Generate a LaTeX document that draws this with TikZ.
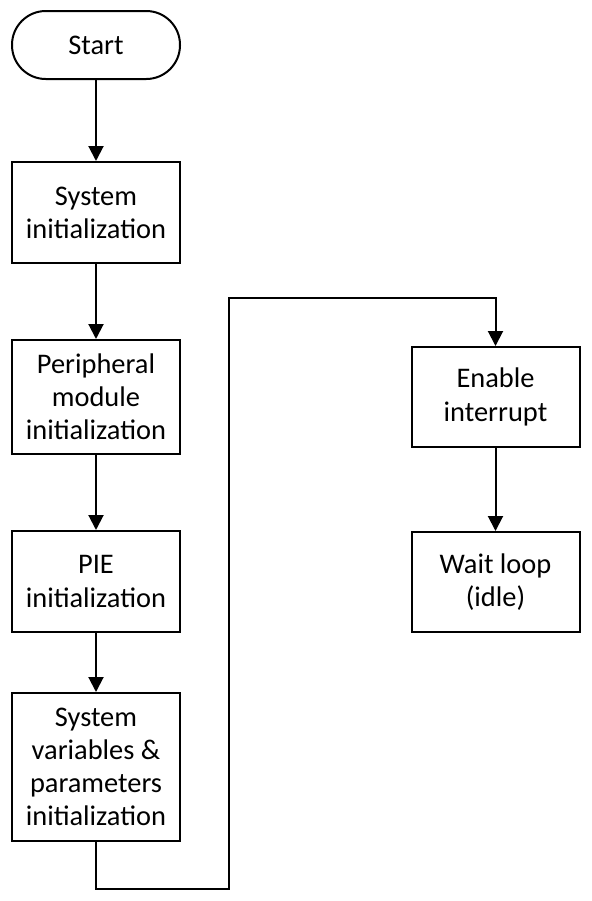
\documentclass[tikz,border=0pt]{standalone}
\usepackage{fontspec}
\setmainfont{Carlito}
\usetikzlibrary{arrows.meta,positioning,calc}
\tikzset{
  term/.style={rectangle, draw, line width=1pt, rounded corners=16.9pt, align=center,
               font=\fontsize{14.2}{16.6}\selectfont, minimum width=84pt, minimum height=34pt},
  proc/.style={rectangle, draw, line width=1pt, align=center, inner sep=2pt,
               font=\fontsize{14.2}{16.6}\selectfont, minimum width=84pt},
  fl/.style={-{Triangle[length=7.5pt,width=7.5pt]}, line width=1pt},
}
\begin{document}
\begin{tikzpicture}[x=0.5pt,y=-0.5pt]
\useasboundingbox (0,0) rectangle (591,901);
\node[term] (start) at (96,45) {Start};
\node[proc, minimum height=50.5pt] (sysinit) at (96,212.5) {System\\initialization};
\node[proc, minimum height=57pt] (periph) at (96,397) {Peripheral\\module\\initialization};
\node[proc, minimum height=50.5pt] (pie) at (96,581.5) {PIE\\initialization};
\node[proc, minimum height=74pt] (sysvar) at (96,767) {System\\variables \&\\parameters\\initialization};
\node[proc, minimum height=50pt] (enable) at (495.5,397) {Enable\\interrupt};
\node[proc, minimum height=50pt] (wait) at (495.5,582) {Wait loop\\(idle)};
% flow
\draw[fl] (start) -- (sysinit);
\draw[fl] (sysinit) -- (periph);
\draw[fl] (periph) -- (pie);
\draw[fl] (pie) -- (sysvar);
\coordinate (lo) at (229,889);
\coordinate (hi) at (229,298);
\draw[fl] (sysvar.south) |- (lo) -- (hi) -| (enable.north);
\draw[fl] (enable) -- (wait);
\end{tikzpicture}
\end{document}
